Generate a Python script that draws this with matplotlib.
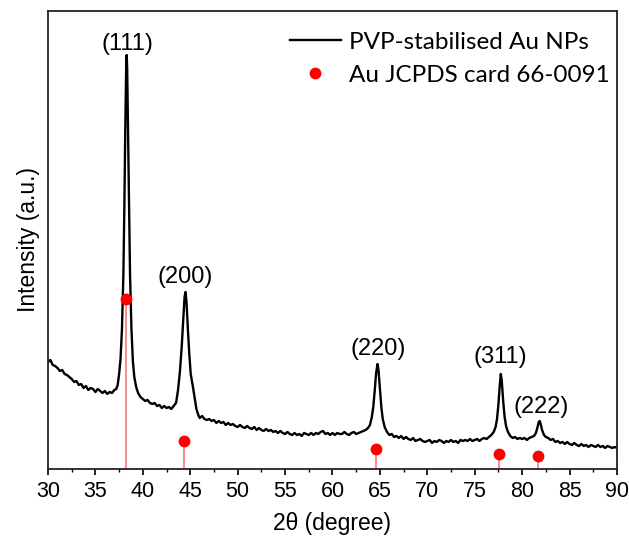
import matplotlib
matplotlib.use("Agg")
import matplotlib.pyplot as plt
from matplotlib.ticker import MultipleLocator

# ---- data (intensity in arbitrary units) ----
two_theta = [
    30.0, 30.25, 30.5, 30.75, 31.0, 31.25, 31.5, 31.75, 32.0, 32.25, 32.5, 32.75,
    33.0, 33.25, 33.5, 33.75, 34.0, 34.25, 34.5, 34.75, 35.0, 35.25, 35.5, 35.75,
    36.0, 36.25, 36.5, 36.75, 37.0,
    37.2, 37.35, 37.5, 37.65, 37.8, 37.95, 38.05, 38.15, 38.25, 38.3, 38.35, 38.45,
    38.55, 38.65, 38.8, 38.95, 39.1, 39.3, 39.5, 39.75,
    40.0, 40.25, 40.5, 40.75, 41.0, 41.25, 41.5, 41.75, 42.0, 42.25, 42.5, 42.75,
    43.0, 43.25,
    43.5, 43.7, 43.9, 44.1, 44.25, 44.4, 44.5, 44.6, 44.75, 44.9, 45.05, 45.25,
    45.45, 45.65, 45.85,
    46.0, 46.25, 46.5, 46.75, 47.0, 47.25, 47.5, 47.75, 48.0, 48.25, 48.5, 48.75,
    49.0, 49.25, 49.5, 49.75, 50.0, 50.25, 50.5, 50.75, 51.0, 51.25, 51.5, 51.75,
    52.0, 52.25, 52.5, 52.75, 53.0, 53.25, 53.5, 53.75, 54.0, 54.25, 54.5, 54.75,
    55.0, 55.25, 55.5, 55.75, 56.0, 56.25, 56.5, 56.75, 57.0, 57.25, 57.5, 57.75,
    58.0, 58.25, 58.5, 58.75, 59.0, 59.25, 59.5, 59.75, 60.0, 60.25, 60.5, 60.75,
    61.0, 61.25, 61.5, 61.75, 62.0, 62.25, 62.5, 62.75, 63.0, 63.25, 63.5, 63.75,
    63.95, 64.15, 64.3, 64.45, 64.6, 64.75, 64.85, 65.0, 65.15, 65.3, 65.5, 65.75,
    66.0, 66.25, 66.5, 66.75, 67.0, 67.25, 67.5, 67.75, 68.0, 68.25, 68.5, 68.75,
    69.0, 69.25, 69.5, 69.75, 70.0, 70.25, 70.5, 70.75, 71.0, 71.25, 71.5, 71.75,
    72.0, 72.25, 72.5, 72.75, 73.0, 73.25, 73.5, 73.75, 74.0, 74.25, 74.5, 74.75,
    75.0, 75.25, 75.5, 75.75, 76.0, 76.25, 76.5, 76.75,
    77.0, 77.2, 77.35, 77.5, 77.65, 77.75, 77.85, 78.0, 78.15, 78.3, 78.5, 78.75,
    79.0, 79.25, 79.5, 79.75, 80.0, 80.25, 80.5, 80.75, 81.0, 81.25,
    81.45, 81.6, 81.75, 81.85, 81.95, 82.1, 82.3, 82.5,
    82.75, 83.0, 83.25, 83.5, 83.75, 84.0, 84.25, 84.5, 84.75, 85.0, 85.25, 85.5,
    85.75, 86.0, 86.25, 86.5, 86.75, 87.0, 87.25, 87.5, 87.75, 88.0, 88.25, 88.5,
    88.75, 89.0, 89.25, 89.5, 89.75, 90.0,
]
intensity = [
    107, 109, 104, 103, 101, 98, 99, 95, 94, 92, 90, 87,
    88, 84, 85, 81, 83, 79, 81, 80, 77, 80, 78, 76,
    78, 75, 77, 76, 79,
    80, 84, 95, 110, 140, 195, 260, 340, 405, 414, 400, 330,
    255, 195, 140, 108, 92, 82, 76, 72,
    70, 68, 69, 66, 65, 66, 63, 64, 61, 63, 61, 62,
    60, 63,
    66, 78, 96, 122, 148, 172, 177, 168, 140, 115, 95, 84,
    72, 60, 54,
    51, 53, 50, 49, 50, 48, 49, 46, 48, 46, 47, 44,
    46, 44, 45, 43, 42, 44, 42, 41, 43, 41, 40, 42,
    39, 41, 39, 38, 40, 38, 39, 37, 38, 36, 38, 36,
    35, 37, 35, 34, 36, 34, 35, 33, 36, 35, 34, 36,
    34, 36, 35, 37, 38, 35, 36, 34, 36, 34, 36, 35,
    35, 37, 35, 34, 36, 37, 35, 36, 37, 38, 39, 41,
    44, 52, 62, 78, 96, 105, 99, 80, 62, 50, 42, 37,
    34, 35, 32, 33, 31, 33, 30, 32, 30, 29, 31, 28,
    29, 30, 28, 27, 28, 29, 26, 28, 27, 29, 28, 26,
    28, 27, 29, 27, 28, 26, 29, 28, 29, 28, 30, 28,
    29, 30, 28, 30, 31, 30, 32, 34,
    37, 42, 50, 65, 85, 95, 88, 68, 52, 43, 37, 33,
    31, 32, 30, 31, 30, 31, 29, 31, 32, 33,
    36, 41, 47, 48, 45, 39, 34, 32,
    31, 29, 30, 27, 28, 26, 27, 25, 27, 25, 24, 26,
    24, 23, 25, 23, 24, 22, 24, 23, 22, 24, 22, 23,
    21, 23, 22, 21, 22, 21,
]

ref_positions = [38.18, 44.39, 64.58, 77.55, 81.72]
ref_heights = [170, 28, 20, 15, 13]

peak_labels = ["(111)", "(200)", "(220)", "(311)", "(222)"]
peak_label_x = [38.33, 44.5, 64.8, 77.7, 82.0]
peak_label_y = [425, 192, 120, 112, 62]

x_ticks = list(range(30, 95, 5))

# ---- figure ----
fig = plt.figure(figsize=(6.29, 5.39), dpi=100)
ax = fig.add_axes([0.0763, 0.1299, 0.9046, 0.8497])

ax.vlines(ref_positions, 0, ref_heights, color="#f47c7c", linewidth=1.2, zorder=1)
ax.plot(two_theta, intensity, color="black", linewidth=1.7, zorder=2,
        label="PVP-stabilised Au NPs")
ax.plot(ref_positions, ref_heights, linestyle="none", marker="o", markersize=8.5,
        color="#ff0000", markeredgewidth=0, zorder=3, label="Au JCPDS card 66-0091")

for lab, lx, ly in zip(peak_labels, peak_label_x, peak_label_y):
    ax.text(lx, ly, lab, ha="center", va="center", fontsize=17,
            family="Liberation Sans")

ax.set_xlim(30, 90)
ax.set_ylim(0, 458)
ax.set_xticks(x_ticks)
ax.xaxis.set_minor_locator(MultipleLocator(2.5))
ax.set_yticks([])
ax.tick_params(axis="x", which="major", direction="out", length=4, width=1.2,
               labelsize=15.5, pad=5)
ax.tick_params(axis="x", which="minor", direction="out", length=2.5, width=1.0)
for lbl in ax.get_xticklabels():
    lbl.set_family("Liberation Sans")
for sp in ax.spines.values():
    sp.set_linewidth(1.3)
    sp.set_color("#222222")

ax.set_xlabel("2θ (degree)", fontsize=16.5, family="Liberation Sans", labelpad=7)
ax.set_ylabel("Intensity (a.u.)", fontsize=16.5, family="Liberation Sans", labelpad=6)

leg = ax.legend(loc="upper right", bbox_to_anchor=(0.988, 0.955), frameon=False,
                prop={"family": "Lato", "size": 17.5},
                handlelength=2.1, handletextpad=0.35, borderaxespad=0.0,
                borderpad=0.0, labelspacing=0.5)

fig.savefig("out.png", dpi=100)
